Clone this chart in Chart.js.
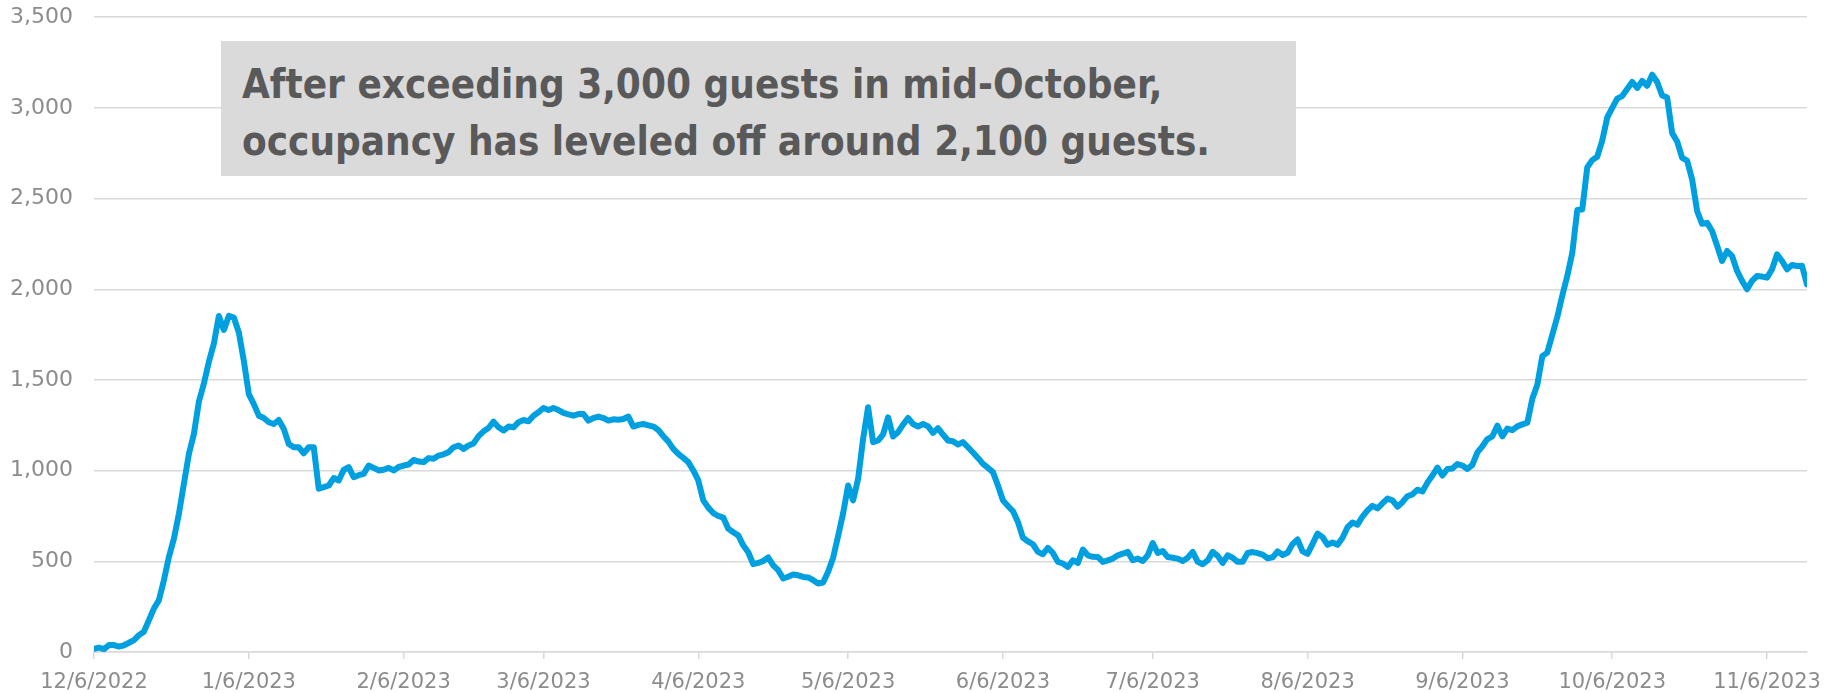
<!DOCTYPE html>
<html lang="en">
<head>
    <meta charset="UTF-8">
    <title>Shelter occupancy</title>
    <style>
        body { margin: 0; background: #fff; }
        #wrap { position: relative; width: 1841px; height: 693px; overflow: hidden; }
        #chart { position: absolute; left: 0; top: -17px; }
        #note {
            position: absolute;
            left: 221px;
            top: 41px;
            width: 1075px;
            height: 135px;
            box-sizing: border-box;
            padding: 15px 0 0 21px;
            background: #dadadb;
            color: #595959;
            font-family: "DejaVu Sans Condensed", "Liberation Sans Narrow", sans-serif;
            font-stretch: condensed;
            font-weight: bold;
            font-size: 40px;
            line-height: 57px;
            white-space: nowrap;
        }
    </style>
</head>
<body>
    <div id="wrap">
        <canvas id="chart" width="1841" height="710"></canvas>
        <div id="note">After exceeding 3,000 guests in mid-October,<br>occupancy has leveled off around 2,100 guests.</div>
    </div>

    <script src="https://cdn.jsdelivr.net/npm/chart.js"></script>
    <script>
        // daily guests, first value is 12/6/2022
        const startDate = '2022-12-06';
        const guests = [
            18, 24, 16, 38, 38, 30, 37, 51, 66, 93,
            112, 176, 240, 286, 396, 524, 625, 762, 928, 1092,
            1202, 1380, 1480, 1600, 1700, 1853, 1776, 1853, 1844, 1762,
            1606, 1422, 1367, 1303, 1290, 1267, 1257, 1279, 1230, 1147,
            1129, 1129, 1096, 1129, 1129, 900, 909, 918, 959, 946,
            1004, 1019, 964, 975, 982, 1028, 1015, 1001, 1005, 1015,
            1001, 1020, 1028, 1034, 1059, 1050, 1047, 1069, 1065, 1083,
            1090, 1102, 1129, 1138, 1120, 1138, 1150, 1190, 1217, 1235,
            1270, 1239, 1221, 1243, 1239, 1267, 1279, 1272, 1303, 1322,
            1345, 1334, 1345, 1334, 1318, 1310, 1303, 1312, 1312, 1276,
            1290, 1298, 1290, 1276, 1283, 1281, 1285, 1298, 1243, 1252,
            1257, 1250, 1243, 1224, 1190, 1160, 1120, 1092, 1070, 1047,
            1001, 946, 836, 796, 766, 750, 741, 680, 660, 643,
            588, 550, 484, 491, 502, 521, 478, 451, 405, 415,
            427, 423, 414, 411, 396, 378, 383, 442, 520, 640,
            765, 918, 836, 955, 1175, 1349, 1157, 1166, 1200, 1294,
            1188, 1212, 1254, 1290, 1257, 1243, 1257, 1245, 1208, 1234,
            1199, 1166, 1162, 1144, 1157, 1129, 1100, 1070, 1037, 1015,
            992, 918, 836, 805, 777, 717, 631, 610, 594, 552,
            539, 574, 546, 497, 488, 469, 506, 491, 565, 533,
            525, 524, 497, 505, 515, 533, 542, 552, 506, 515,
            502, 533, 601, 546, 557, 524, 520, 515, 502, 520,
            552, 497, 484, 505, 552, 530, 491, 533, 520, 497,
            497, 546, 551, 545, 537, 517, 522, 555, 535, 547,
            596, 620, 555, 541, 596, 653, 633, 591, 604, 591,
            630, 688, 714, 702, 747, 781, 806, 792, 820, 846,
            836, 801, 826, 859, 869, 895, 885, 934, 973, 1017,
            973, 1009, 1012, 1036, 1028, 1009, 1032, 1101, 1134, 1174,
            1189, 1248, 1189, 1232, 1223, 1244, 1255, 1264, 1396, 1474,
            1631, 1651, 1749, 1847, 1965, 2073, 2200, 2437, 2440, 2672,
            2712, 2731, 2819, 2947, 3000, 3051, 3065, 3104, 3143, 3110,
            3149, 3122, 3183, 3143, 3068, 3057, 2861, 2815, 2724, 2709,
            2605, 2431, 2361, 2366, 2321, 2240, 2156, 2211, 2183, 2101,
            2046, 2000, 2046, 2073, 2070, 2064, 2110, 2192, 2156, 2110,
            2134, 2128, 2130, 2027
        ];

        const tickLabels = ['12/6/2022', '1/6/2023', '2/6/2023', '3/6/2023', '4/6/2023', '5/6/2023',
            '6/6/2023', '7/6/2023', '8/6/2023', '9/6/2023', '10/6/2023', '11/6/2023'];

        const yMin = 0, yMax = 3500, yStep = 500;

        // day offset of a m/d/yyyy label from the first date
        function dayOf(label) {
            const p = label.split('/');
            const d = Date.UTC(+p[2], +p[0] - 1, +p[1]);
            const s = startDate.split('-');
            const d0 = Date.UTC(+s[0], +s[1] - 1, +s[2]);
            return Math.round((d - d0) / 86400000);
        }
        const tickDays = tickLabels.map(dayOf);

        const points = guests.map((v, i) => ({ x: i, y: v }));
        const grey = '#8c8c8c';
        const gridGrey = '#d9d9d9';

        new Chart(document.getElementById('chart'), {
            type: 'line',
            data: {
                datasets: [{
                    data: points,
                    borderColor: '#00a0e0',
                    borderWidth: 6,
                    borderJoinStyle: 'round',
                    borderCapStyle: 'round',
                    pointRadius: 0,
                    tension: 0
                }]
            },
            options: {
                responsive: false,
                animation: false,
                layout: { padding: { left: 0, right: 34, top: 15, bottom: 0 } },
                plugins: { legend: { display: false }, tooltip: { enabled: false } },
                scales: {
                    x: {
                        type: 'linear',
                        min: 0,
                        max: guests.length - 1,
                        afterBuildTicks: function(scale) {
                            scale.ticks = tickDays.map(v => ({ value: v }));
                        },
                        afterFit: function(scale) { scale.height = 41; },
                        grid: { drawOnChartArea: false, drawTicks: true, tickLength: 7, color: gridGrey, lineWidth: 1.5 },
                        border: { display: true, color: gridGrey, width: 1.5 },
                        ticks: {
                            autoSkip: false,
                            maxRotation: 0,
                            padding: 11,
                            color: grey,
                            font: { family: 'DejaVu Sans', size: 21 },
                            callback: function(value) {
                                const i = tickDays.indexOf(value);
                                return i >= 0 ? tickLabels[i] : '';
                            }
                        }
                    },
                    y: {
                        min: yMin,
                        max: yMax,
                        afterFit: function(scale) { scale.width = 94; },
                        grid: { color: gridGrey, lineWidth: 1.5, drawTicks: false },
                        border: { display: false },
                        ticks: {
                            stepSize: yStep,
                            padding: 21,
                            color: grey,
                            font: { family: 'DejaVu Sans', size: 22 },
                            callback: v => v.toLocaleString('en-US')
                        }
                    }
                }
            }
        });
    </script>
</body>
</html>
